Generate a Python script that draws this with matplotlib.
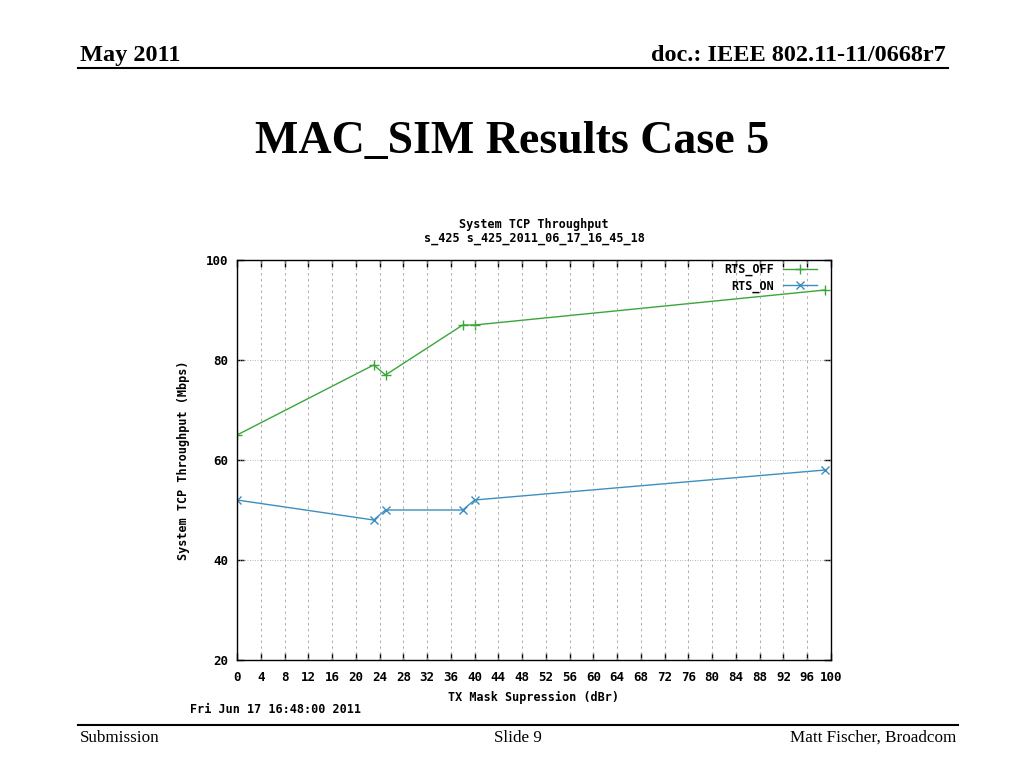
import numpy as np
import matplotlib
matplotlib.use('Agg')
import matplotlib.pyplot as plt

# data
tx_off = [0, 23, 25, 38, 40, 99]
rts_off = [65, 79, 77, 87, 87, 94]
tx_on = [0, 23, 25, 38, 40, 99]
rts_on = [52, 48, 50, 50, 52, 58]
x_ticks = list(range(0, 97, 4)) + [100]
y_ticks = [20, 40, 60, 80, 100]

mono = 'DejaVu Sans Mono'
serif = 'Liberation Serif'
green = '#3aa63a'
blue = '#3b8fc0'

fig = plt.figure(figsize=(10.24, 7.68), dpi=100)

# slide header / footer
fig.text(80 / 1024, 1 - 61 / 768, 'May 2011', family=serif, weight='bold', fontsize=17.5, ha='left', va='baseline')
fig.text(946 / 1024, 1 - 61 / 768, 'doc.: IEEE 802.11-11/0668r7', family=serif, weight='bold', fontsize=17.5,
         ha='right', va='baseline')
fig.add_artist(plt.Line2D([78 / 1024, 948 / 1024], [1 - 68 / 768] * 2, color='k', lw=1.5))
fig.text(512 / 1024, 1 - 153 / 768, 'MAC_SIM Results Case 5', family=serif, weight='bold', fontsize=33,
         ha='center', va='baseline')
fig.add_artist(plt.Line2D([78 / 1024, 958 / 1024], [1 - 725 / 768] * 2, color='k', lw=1.5))
fig.text(80 / 1024, 1 - 742 / 768, 'Submission', family=serif, fontsize=12.3, ha='left', va='baseline')
fig.text(518 / 1024, 1 - 742 / 768, 'Slide 9', family=serif, fontsize=12.3, ha='center', va='baseline')
fig.text(956 / 1024, 1 - 742 / 768, 'Matt Fischer, Broadcom', family=serif, fontsize=12.3, ha='right', va='baseline')

# the gnuplot chart
ax = fig.add_axes([237 / 1024, 1 - 660 / 768, 594 / 1024, 400 / 768])
ax.plot(tx_off, rts_off, color=green, lw=1, marker='+', ms=7, mew=1, label='RTS_OFF')
ax.plot(tx_on, rts_on, color=blue, lw=1, marker='x', ms=6, mew=1, label='RTS_ON')

ax.set_xlim(0, 100)
ax.set_ylim(20, 100)
ax.set_xticks(x_ticks)
ax.set_yticks(y_ticks)
ax.tick_params(direction='in', top=True, right=True, length=5, width=1, labelsize=9)
ax.tick_params(axis='x', pad=8)
ax.tick_params(axis='y', pad=6)
for lbl in ax.get_xticklabels() + ax.get_yticklabels():
    lbl.set_family(mono)
    lbl.set_weight('bold')
for x in x_ticks[1:-1]:
    ax.axvline(x, color='#a0a0a0', lw=0.6, ls=(0, (3, 4)))
for y in y_ticks[1:-1]:
    ax.axhline(y, color='#a0a0a0', lw=0.6, ls=(0, (1, 2)))
for s in ax.spines.values():
    s.set_linewidth(1)

ax.set_xlabel('TX Mask Supression (dBr)', family=mono, weight='bold', fontsize=8.5, labelpad=5)
ax.set_ylabel('System TCP Throughput (Mbps)', family=mono, weight='bold', fontsize=8.5, labelpad=12)
ax.set_title('System TCP Throughput\ns_425 s_425_2011_06_17_16_45_18', family=mono, weight='bold',
             fontsize=8.5, pad=13, linespacing=1.1)

leg = ax.legend(loc='upper right', bbox_to_anchor=(0.985, 1.005), frameon=False, markerfirst=False,
                handlelength=2.9, prop={'family': mono, 'weight': 'bold', 'size': 8.5}, borderaxespad=0,
                labelspacing=0.3)

fig.text(190 / 1024, 1 - 713 / 768, 'Fri Jun 17 16:48:00 2011', family=mono, weight='bold', fontsize=8.5,
         ha='left', va='baseline')

fig.savefig('out.png', dpi=100)
